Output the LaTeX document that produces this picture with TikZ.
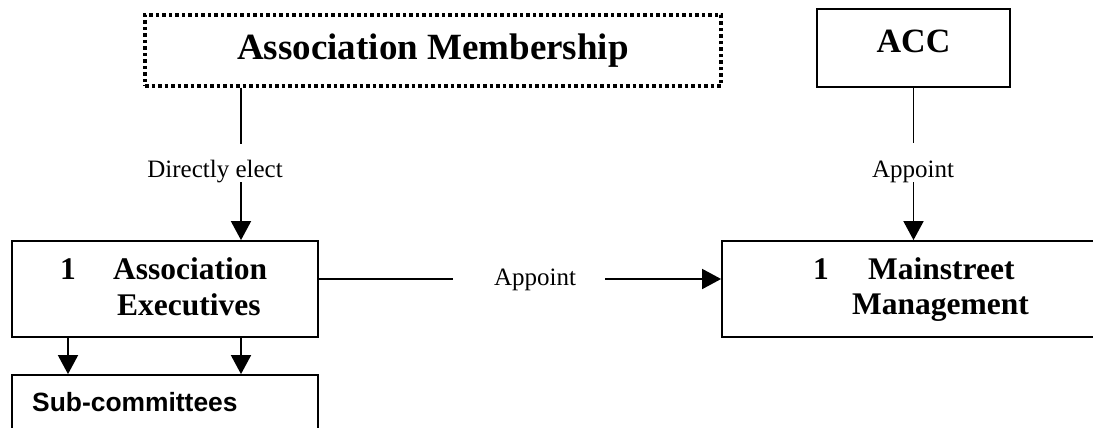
\documentclass[tikz,border=0pt]{standalone}
\usepackage{fontspec}
\setmainfont{Liberation Serif}
\newfontfamily\arialfont{Liberation Sans}
\usetikzlibrary{arrows.meta}
\begin{document}
\begin{tikzpicture}[x=1pt,y=-1pt,
  box/.style={draw, line width=1.8pt, rectangle, inner sep=0pt},
  dotbox/.style={draw, line width=3.5pt, dash pattern=on 3.5pt off 3pt, rectangle, inner sep=0pt},
  title/.style={font=\bfseries\fontsize{37}{40}\selectfont, inner sep=0pt, anchor=base},
  acctxt/.style={font=\bfseries\fontsize{34}{40}\selectfont, inner sep=0pt, anchor=base},
  boxtxt/.style={font=\bfseries\fontsize{31.5}{36}\selectfont, inner sep=0pt, anchor=base west},
  lbl/.style={font=\fontsize{25}{30}\selectfont, inner sep=0pt, anchor=base},
  subtxt/.style={font=\arialfont\bfseries\fontsize{26.4}{30}\selectfont, inner sep=0pt, anchor=base west},
  conn/.style={line width=1.8pt},
  arr/.style={conn, -{Triangle[length=19pt,width=20pt]}},
]
\useasboundingbox (0,0) rectangle (1093,428);
\clip (0,0) rectangle (1093,428);
% boxes
\node[dotbox, minimum width=576pt, minimum height=71pt] (mem) at (433,50.5) {};
\node[box, minimum width=193pt, minimum height=78pt] (acc) at (913.5,48) {};
\node[box, minimum width=306pt, minimum height=96pt] (exec) at (165,289) {};
\node[box, minimum width=428pt, minimum height=96pt] (ms) at (936,289) {};
\node[box, minimum width=306pt, minimum height=95pt] (sub) at (165,422.5) {};
% texts
\node[title] (memt) at (433,60) {Association Membership};
\node[acctxt] (acct) at (913.5,53) {ACC};
\node[boxtxt] (e1n) at (60,279) {1};
\node[boxtxt] (e1t) at (113,279) {Association};
\node[boxtxt] (e2t) at (117,315) {Executives};
\node[boxtxt] (m1n) at (813,279) {1};
\node[boxtxt] (m1t) at (868,279) {Mainstreet};
\node[boxtxt] (m2t) at (852,314) {Management};
\node[subtxt] (subt) at (32,411) {Sub-committees};
% labels
\node[lbl] (l1) at (215,177) {Directly elect};
\node[lbl] (l2) at (913,177) {Appoint};
\node[lbl] (l3) at (535,285) {Appoint};
% connector coordinates
\coordinate (c1) at (241,144);
\coordinate (c2) at (241,182);
\coordinate (c3) at (913.5,143);
\coordinate (c4) at (913.5,182);
\coordinate (c5) at (453,279);
\coordinate (c6) at (605,279);
\coordinate (c7) at (68,0);
\coordinate (c8) at (241,0);
% connectors
\draw[conn] (mem.south -| c1) -- (c1);
\draw[arr] (c2) -- (exec.north -| c2);
\draw[conn] (acc.south) -- (c3);
\draw[arr] (c4) -- (ms.north -| c4);
\draw[conn] (exec.east |- c5) -- (c5);
\draw[arr] (c6) -- (ms.west |- c6);
\draw[arr] (exec.south -| c7) -- (sub.north -| c7);
\draw[arr] (exec.south -| c8) -- (sub.north -| c8);
\end{tikzpicture}
\end{document}
